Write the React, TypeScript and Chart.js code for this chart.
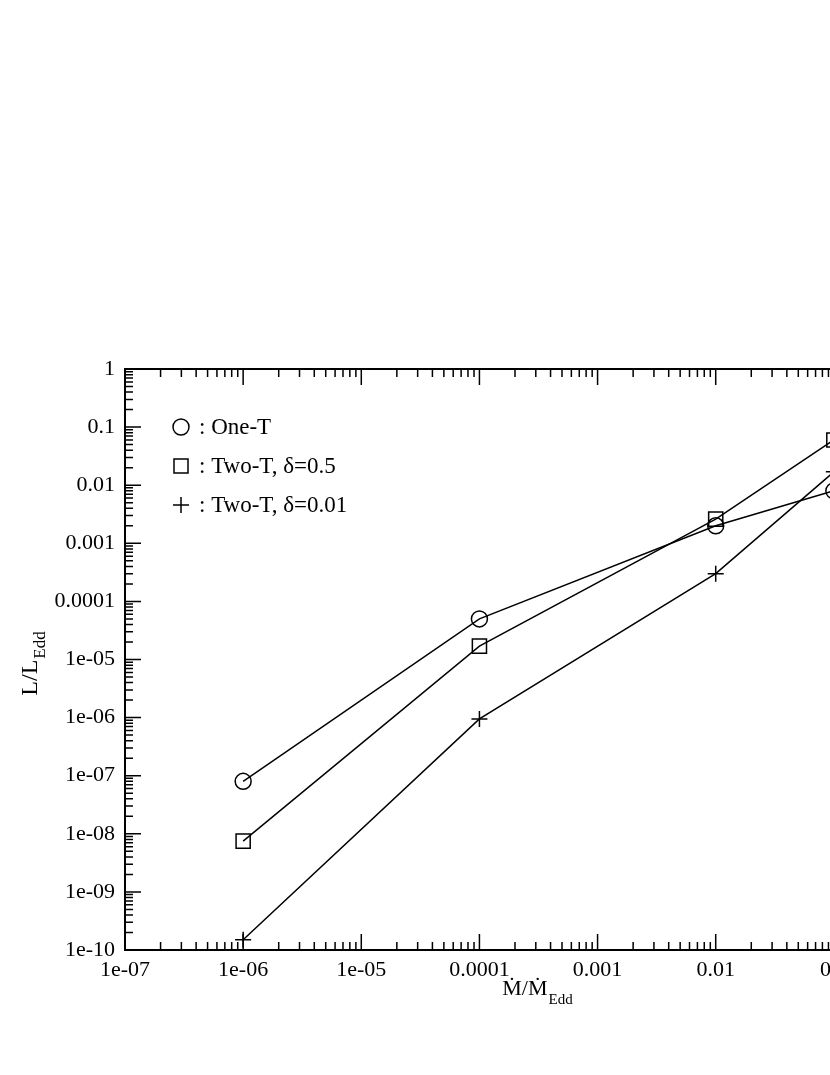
import React, { useEffect, useRef } from 'react';
import { Chart, registerables } from 'chart.js';

Chart.register(...registerables);

// ---- data ----
const xValues = [1e-6, 1e-4, 1e-2, 1e-1];
const oneT = [8e-8, 5e-5, 2e-3, 8e-3];
const twoTd05 = [7.5e-9, 1.7e-5, 2.6e-3, 6e-2];
const twoTd001 = [1.5e-10, 9.5e-7, 3e-4, 1.7e-2];

const xTickValues = [1e-7, 1e-6, 1e-5, 1e-4, 1e-3, 1e-2, 1e-1, 1];
const xTickLabels = ['1e-07', '1e-06', '1e-05', '0.0001', '0.001', '0.01', '0.1', '1'];
const yTickValues = [1e-10, 1e-9, 1e-8, 1e-7, 1e-6, 1e-5, 1e-4, 1e-3, 1e-2, 1e-1, 1];
const yTickLabels = ['1e-10', '1e-09', '1e-08', '1e-07', '1e-06', '1e-05', '0.0001', '0.001', '0.01', '0.1', '1'];

const seriesNames = [': One-T', ': Two-T, \u03b4=0.5', ': Two-T, \u03b4=0.01'];
const seriesStyles = ['circle', 'rect', 'cross'];

const FONT = '"Liberation Serif", "Times New Roman", serif';
const W = 1000;
const H = 1075;
const AREA = { left: 125, top: 369, right: 952, bottom: 950 };

function drawMarker(ctx: CanvasRenderingContext2D, style: string, x: number, y: number) {
  ctx.beginPath();
  if (style === 'circle') {
    ctx.arc(x, y, 8, 0, Math.PI * 2);
  } else if (style === 'rect') {
    ctx.rect(x - 7, y - 7, 14, 14);
  } else {
    ctx.moveTo(x - 8, y);
    ctx.lineTo(x + 8, y);
    ctx.moveTo(x, y - 8);
    ctx.lineTo(x, y + 8);
  }
  ctx.stroke();
}

const framePlugin = {
  id: 'frame',
  afterDraw(chart: any) {
    const { ctx, chartArea: a, scales } = chart;
    const xs = scales.x;
    const ys = scales.y;
    ctx.save();
    ctx.strokeStyle = '#000';
    ctx.fillStyle = '#000';
    // frame
    ctx.lineWidth = 2;
    ctx.strokeRect(a.left, a.top, a.right - a.left, a.bottom - a.top);
    // inward ticks
    ctx.lineWidth = 1.5;
    ctx.beginPath();
    for (let e = -7; e <= 0; e++) {
      for (let k = 1; k <= 9; k++) {
        const v = k * Math.pow(10, e);
        if (v > 1.0000001) continue;
        const len = k === 1 ? 16 : 8;
        const px = xs.getPixelForValue(v);
        ctx.moveTo(px, a.bottom);
        ctx.lineTo(px, a.bottom - len);
        ctx.moveTo(px, a.top);
        ctx.lineTo(px, a.top + len);
      }
    }
    for (let e = -10; e <= 0; e++) {
      for (let k = 1; k <= 9; k++) {
        const v = k * Math.pow(10, e);
        if (v > 1.0000001) continue;
        const len = k === 1 ? 16 : 8;
        const py = ys.getPixelForValue(v);
        ctx.moveTo(a.left, py);
        ctx.lineTo(a.left + len, py);
        ctx.moveTo(a.right, py);
        ctx.lineTo(a.right - len, py);
      }
    }
    ctx.stroke();

    // legend
    ctx.lineWidth = 1.5;
    ctx.font = `23px ${FONT}`;
    ctx.textBaseline = 'alphabetic';
    ctx.textAlign = 'left';
    seriesNames.forEach((name, i) => {
      const my = 427 + i * 39;
      drawMarker(ctx, seriesStyles[i], 181, my);
      ctx.fillText(name, 199, my + 7);
    });

    // x title
    const xMain = '\u1E40/\u1E40';
    const xSub = 'Edd';
    ctx.font = `22px ${FONT}`;
    const wMain = ctx.measureText(xMain).width;
    ctx.font = `15px ${FONT}`;
    const wSub = ctx.measureText(xSub).width;
    const cx = 537;
    const x0 = cx - (wMain + wSub) / 2;
    ctx.font = `22px ${FONT}`;
    ctx.fillText(xMain, x0, 995);
    ctx.font = `15px ${FONT}`;
    ctx.fillText(xSub, x0 + wMain + 1, 1004);

    // y title
    ctx.save();
    ctx.translate(37, 664);
    ctx.rotate(-Math.PI / 2);
    const yMain = 'L/L';
    const ySub = 'Edd';
    ctx.font = `24px ${FONT}`;
    const ywMain = ctx.measureText(yMain).width;
    ctx.font = `17px ${FONT}`;
    const ywSub = ctx.measureText(ySub).width;
    const y0 = -(ywMain + ywSub) / 2;
    ctx.font = `24px ${FONT}`;
    ctx.fillText(yMain, y0, 0);
    ctx.font = `17px ${FONT}`;
    ctx.fillText(ySub, y0 + ywMain + 1, 8);
    ctx.restore();

    ctx.restore();
  },
};

export default function App() {
  const ref = useRef<HTMLCanvasElement>(null);

  useEffect(() => {
    if (!ref.current) return;
    const mk = (vals: number[], style: string, radius: number) => ({
      data: xValues.map((x, i) => ({ x, y: vals[i] })),
      borderColor: '#000',
      borderWidth: 1.5,
      backgroundColor: 'rgba(0,0,0,0)',
      pointStyle: style,
      pointRadius: radius,
      pointHoverRadius: radius,
      pointBorderColor: '#000',
      pointBackgroundColor: 'rgba(0,0,0,0)',
      pointBorderWidth: 1.5,
      showLine: true,
      fill: false,
      tension: 0,
    });
    const chart = new Chart(ref.current, {
      type: 'line',
      data: {
        datasets: [
          mk(oneT, 'circle', 8),
          mk(twoTd05, 'rect', 10),
          mk(twoTd001, 'cross', 8),
        ],
      },
      options: {
        animation: false,
        responsive: false,
        events: [],
        layout: { padding: { left: 0, top: AREA.top, right: W - AREA.right, bottom: 0 } },
        plugins: {
          legend: { display: false },
          tooltip: { enabled: false },
        },
        scales: {
          x: {
            type: 'logarithmic',
            min: 1e-7,
            max: 1,
            grid: { display: false, drawTicks: false },
            border: { display: false },
            afterBuildTicks: (s: any) => {
              s.ticks = xTickValues.map((v) => ({ value: v }));
            },
            afterFit: (s: any) => {
              s.height = H - AREA.bottom;
            },
            ticks: {
              autoSkip: false,
              maxRotation: 0,
              padding: 7,
              color: '#000',
              font: { family: FONT, size: 22 },
              callback: (_v: any, i: number) => xTickLabels[i],
            },
          },
          y: {
            type: 'logarithmic',
            min: 1e-10,
            max: 1,
            grid: { display: false, drawTicks: false },
            border: { display: false },
            afterBuildTicks: (s: any) => {
              s.ticks = yTickValues.map((v) => ({ value: v }));
            },
            afterFit: (s: any) => {
              s.width = AREA.left;
            },
            ticks: {
              autoSkip: false,
              padding: 10,
              color: '#000',
              font: { family: FONT, size: 22 },
              callback: (_v: any, i: number) => yTickLabels[i],
            },
          },
        },
      } as any,
      plugins: [framePlugin],
    });
    return () => chart.destroy();
  }, []);

  return (
    <div style={{ position: 'absolute', left: 0, top: 0, width: 830, height: H, overflow: 'hidden', background: '#fff' }}>
      <canvas ref={ref} width={W} height={H} style={{ display: 'block', width: W, height: H }} />
    </div>
  );
}
